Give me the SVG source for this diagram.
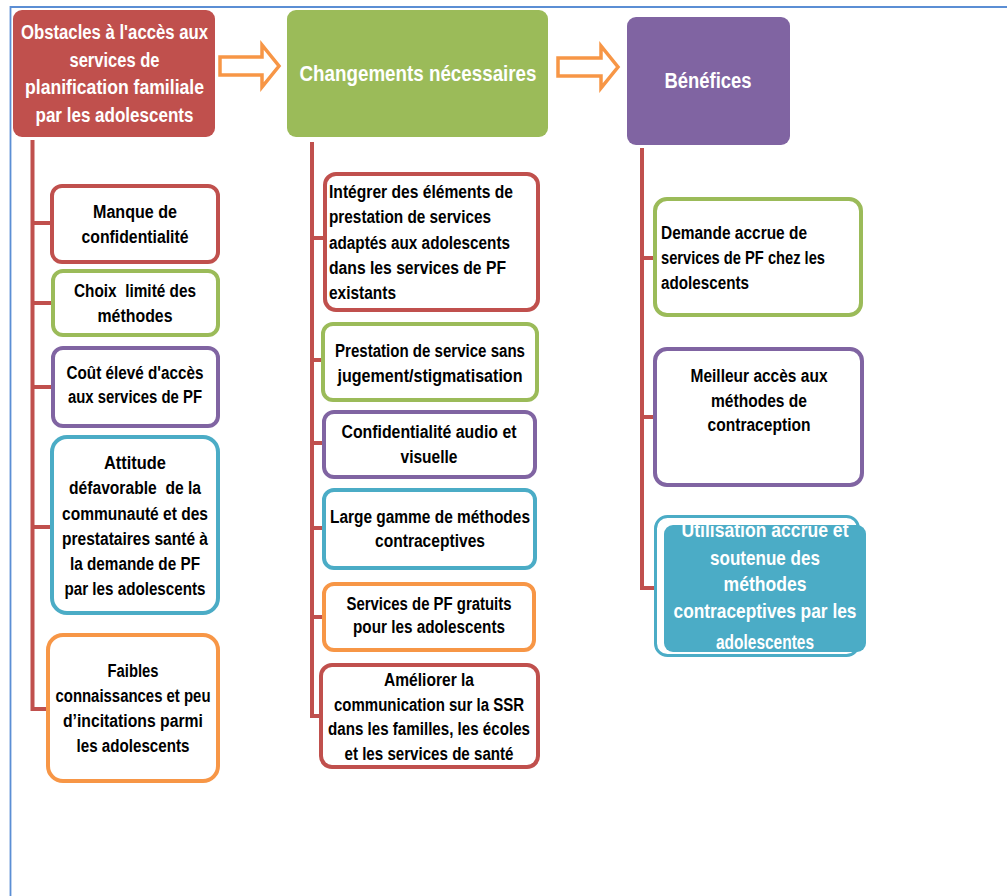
<svg xmlns="http://www.w3.org/2000/svg" width="1007" height="896" viewBox="0 0 1007 896">
<style>
text{font-family:"Liberation Sans",Arial,sans-serif;font-weight:bold}
.hd{fill:#fff;font-size:20px;text-anchor:middle}
.hd2{fill:#fff;font-size:22px;text-anchor:middle}
.hd3{fill:#fff;font-size:21px;text-anchor:middle}
.t{fill:#000;font-size:17.5px}
.c{text-anchor:middle}
.box{fill:#fff;stroke-width:4}
.red{stroke:#C0504D}.grn{stroke:#9BBB59}.pur{stroke:#8064A2}.teal{stroke:#4BACC6}.org{stroke:#F79646}
.conn{fill:none;stroke:#C0504D;stroke-width:4}
.arr{fill:#fff;stroke:#F79646;stroke-width:3.5;stroke-linejoin:miter}
</style>
<defs>
<clipPath id="clipR3"><rect x="664" y="525" width="202" height="127" rx="9"/></clipPath>
</defs>
<rect width="1007" height="896" fill="#fff"/>
<path d="M10.5 896 V7 H1007" fill="none" stroke="#5B8ED4" stroke-width="1.8"/>

<g id="connectors">
<path class="conn" d="M32.5 140 V709 H48 M32.5 223 H52 M32.5 303 H53 M32.5 387 H53 M32.5 527 H52"/>
<path class="conn" d="M312 142 V716 H321 M312 238 H325 M312 360 H323 M312 443 H324 M312 528 H324 M312 617 H324"/>
<path class="conn" d="M642 148 V588 H656 M642 258 H655 M642 417 H655"/>
<path class="arr" d="M220 57 H262 V45 L279 66 L262 87 V75 H220 Z"/>
<path class="arr" d="M558 58 H601 V46 L618 67 L601 88 V76 H558 Z"/>
</g>

<g id="h1">
<rect x="13" y="10" width="202" height="127" rx="9" fill="#C0504D"/>
<text class="hd" x="114.5" y="39" textLength="187" lengthAdjust="spacingAndGlyphs">Obstacles à l'accès aux</text>
<text class="hd" x="114.5" y="67" textLength="90" lengthAdjust="spacingAndGlyphs">services de</text>
<text class="hd" x="114.5" y="94" textLength="179" lengthAdjust="spacingAndGlyphs">planification familiale</text>
<text class="hd" x="114.5" y="122" textLength="158" lengthAdjust="spacingAndGlyphs">par les adolescents</text>
</g>
<g id="h2">
<rect x="287" y="10" width="261" height="127" rx="9" fill="#9BBB59"/>
<text class="hd2" x="418" y="81" textLength="237" lengthAdjust="spacingAndGlyphs">Changements nécessaires</text>
</g>
<g id="h3">
<rect x="627" y="17" width="163" height="128" rx="9" fill="#8064A2"/>
<text class="hd2" x="708" y="88" textLength="87" lengthAdjust="spacingAndGlyphs">Bénéfices</text>
</g>

<g id="l1">
<rect class="box red" x="52" y="186" width="166" height="76" rx="10"/>
<text class="t c" x="135" y="218" textLength="84" lengthAdjust="spacingAndGlyphs">Manque de</text>
<text class="t c" x="135" y="243" textLength="107" lengthAdjust="spacingAndGlyphs">confidentialité</text>
</g>
<g id="l2">
<rect class="box grn" x="53" y="271" width="165" height="64" rx="10"/>
<text class="t c" x="135" y="297" style="white-space:pre" textLength="122" lengthAdjust="spacingAndGlyphs">Choix  limité des</text>
<text class="t c" x="135" y="322" textLength="75" lengthAdjust="spacingAndGlyphs">méthodes</text>
</g>
<g id="l3">
<rect class="box pur" x="53" y="348" width="165" height="78" rx="10"/>
<text class="t c" x="135" y="379" textLength="137" lengthAdjust="spacingAndGlyphs">Coût élevé d'accès</text>
<text class="t c" x="135" y="403" textLength="134" lengthAdjust="spacingAndGlyphs">aux services de PF</text>
</g>
<g id="l4">
<rect class="box teal" x="52" y="437" width="166" height="176" rx="15"/>
<text class="t c" x="135" y="469" textLength="62" lengthAdjust="spacingAndGlyphs">Attitude</text>
<text class="t c" x="135" y="494" style="white-space:pre" textLength="132" lengthAdjust="spacingAndGlyphs">défavorable  de la</text>
<text class="t c" x="135" y="520" textLength="146" lengthAdjust="spacingAndGlyphs">communauté et des</text>
<text class="t c" x="135" y="545" textLength="146" lengthAdjust="spacingAndGlyphs">prestataires santé à</text>
<text class="t c" x="135" y="570" textLength="130" lengthAdjust="spacingAndGlyphs">la demande de PF</text>
<text class="t c" x="135" y="595" textLength="141" lengthAdjust="spacingAndGlyphs">par les adolescents</text>
</g>
<g id="l5">
<rect class="box org" x="48" y="635" width="170" height="146" rx="15"/>
<text class="t c" x="133" y="677" textLength="51" lengthAdjust="spacingAndGlyphs">Faibles</text>
<text class="t c" x="133" y="702" textLength="155" lengthAdjust="spacingAndGlyphs">connaissances et peu</text>
<text class="t c" x="133" y="727" textLength="140" lengthAdjust="spacingAndGlyphs">d’incitations parmi</text>
<text class="t c" x="133" y="752" textLength="113" lengthAdjust="spacingAndGlyphs">les adolescents</text>
</g>

<g id="m1">
<rect class="box red" x="325" y="174" width="213" height="136" rx="11"/>
<text class="t" x="329" y="198" textLength="184" lengthAdjust="spacingAndGlyphs">Intégrer des éléments de</text>
<text class="t" x="329" y="223" textLength="162" lengthAdjust="spacingAndGlyphs">prestation de services</text>
<text class="t" x="329" y="249" textLength="181" lengthAdjust="spacingAndGlyphs">adaptés aux adolescents</text>
<text class="t" x="329" y="274" textLength="177" lengthAdjust="spacingAndGlyphs">dans les services de PF</text>
<text class="t" x="329" y="299" textLength="67" lengthAdjust="spacingAndGlyphs">existants</text>
</g>
<g id="m2">
<rect class="box grn" x="323" y="324" width="214" height="76" rx="10"/>
<text class="t c" x="430" y="357" textLength="190" lengthAdjust="spacingAndGlyphs">Prestation de service sans</text>
<text class="t c" x="430" y="382" textLength="185" lengthAdjust="spacingAndGlyphs">jugement/stigmatisation</text>
</g>
<g id="m3">
<rect class="box pur" x="324" y="412" width="211" height="65" rx="10"/>
<text class="t c" x="429" y="438" textLength="175" lengthAdjust="spacingAndGlyphs">Confidentialité audio et</text>
<text class="t c" x="429" y="463" textLength="57" lengthAdjust="spacingAndGlyphs">visuelle</text>
</g>
<g id="m4">
<rect class="box teal" x="324" y="490" width="211" height="78" rx="10"/>
<text class="t c" x="430" y="523" textLength="200" lengthAdjust="spacingAndGlyphs">Large gamme de méthodes</text>
<text class="t c" x="430" y="547" textLength="110" lengthAdjust="spacingAndGlyphs">contraceptives</text>
</g>
<g id="m5">
<rect class="box org" x="324" y="584" width="210" height="66" rx="10"/>
<text class="t c" x="429" y="610" textLength="165" lengthAdjust="spacingAndGlyphs">Services de PF gratuits</text>
<text class="t c" x="429" y="633" textLength="152" lengthAdjust="spacingAndGlyphs">pour les adolescents</text>
</g>
<g id="m6">
<rect class="box red" x="321" y="665" width="217" height="102" rx="11"/>
<text class="t c" x="429" y="686" textLength="90" lengthAdjust="spacingAndGlyphs">Améliorer la</text>
<text class="t c" x="429" y="711" textLength="190" lengthAdjust="spacingAndGlyphs">communication sur la SSR</text>
<text class="t c" x="429" y="735" textLength="202" lengthAdjust="spacingAndGlyphs">dans les familles, les écoles</text>
<text class="t c" x="429" y="760" textLength="169" lengthAdjust="spacingAndGlyphs">et les services de santé</text>
</g>

<g id="r1">
<rect class="box grn" x="655" y="199" width="206" height="116" rx="12"/>
<text class="t" x="661" y="239" textLength="146" lengthAdjust="spacingAndGlyphs">Demande accrue de</text>
<text class="t" x="661" y="264" textLength="164" lengthAdjust="spacingAndGlyphs">services de PF chez les</text>
<text class="t" x="661" y="289" textLength="88" lengthAdjust="spacingAndGlyphs">adolescents</text>
</g>
<g id="r2">
<rect class="box pur" x="655" y="349" width="207" height="136" rx="12"/>
<text class="t c" x="759" y="382" textLength="137" lengthAdjust="spacingAndGlyphs">Meilleur accès aux</text>
<text class="t c" x="759" y="407" textLength="96" lengthAdjust="spacingAndGlyphs">méthodes de</text>
<text class="t c" x="759" y="431" textLength="103" lengthAdjust="spacingAndGlyphs">contraception</text>
</g>
<g id="r3">
<rect x="655.5" y="516.5" width="203" height="139" rx="12" fill="#fff" stroke="#4BACC6" stroke-width="3"/>
<rect x="664" y="525" width="202" height="127" rx="9" fill="#4BACC6"/>
<g clip-path="url(#clipR3)">
<text class="hd3" x="765" y="537" textLength="167" lengthAdjust="spacingAndGlyphs">Utilisation accrue et</text>
<text class="hd3" x="765" y="565" textLength="110" lengthAdjust="spacingAndGlyphs">soutenue des</text>
<text class="hd3" x="765" y="591" textLength="83" lengthAdjust="spacingAndGlyphs">méthodes</text>
<text class="hd3" x="765" y="618" textLength="183" lengthAdjust="spacingAndGlyphs">contraceptives par les</text>
<text class="hd3" x="765" y="649" textLength="98" lengthAdjust="spacingAndGlyphs">adolescentes</text>
</g>
</g>
</svg>
